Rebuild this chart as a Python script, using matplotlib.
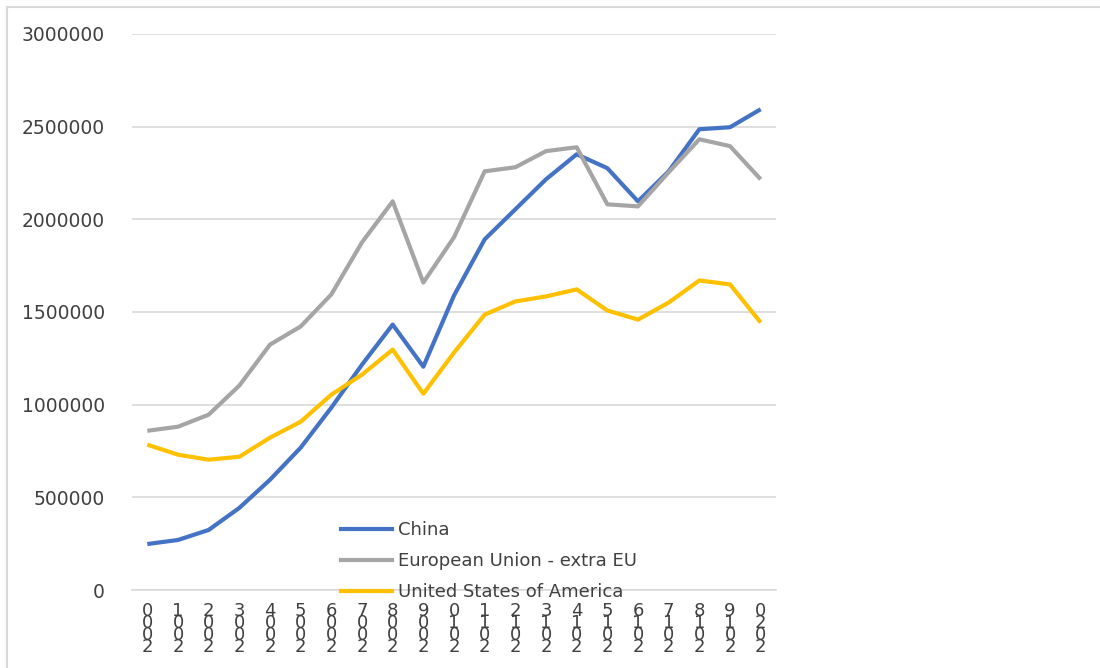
import matplotlib
matplotlib.use("Agg")
import matplotlib.pyplot as plt
from matplotlib.lines import Line2D

years = list(range(2000, 2021))
china = [248000, 270000, 324000, 443000, 595000, 768000, 984000, 1216000, 1432000, 1205000,
         1589000, 1892000, 2054000, 2216000, 2351000, 2276000, 2097000, 2259000, 2486000, 2497000, 2594000]
eu = [859000, 881000, 946000, 1103000, 1324000, 1422000, 1595000, 1876000, 2097000, 1659000,
      1903000, 2259000, 2281000, 2368000, 2389000, 2081000, 2070000, 2254000, 2432000, 2395000, 2216000]
usa = [784000, 730000, 703000, 719000, 822000, 908000, 1054000, 1162000, 1297000, 1059000,
       1281000, 1486000, 1557000, 1584000, 1622000, 1508000, 1459000, 1551000, 1670000, 1649000, 1443000]
labels = ["China", "European Union - extra EU", "United States of America"]
colors = ["#4472C4", "#A5A5A5", "#FFC000"]

fig = plt.figure(figsize=(11, 6.68), dpi=100)
ax = fig.add_axes([132 / 1100, 78 / 668, 644 / 1100, 556 / 668])

x = list(range(len(years)))
for vals, lab, c in zip([china, eu, usa], labels, colors):
    ax.plot(x, vals, color=c, lw=3, label=lab, solid_capstyle="butt", zorder=3)

ax.set_xlim(-0.5, len(years) - 0.5)
ax.set_ylim(0, 3000000)
ax.set_yticks(range(0, 3000001, 500000))
ax.set_yticklabels([str(v) for v in range(0, 3000001, 500000)], fontsize=13.5, color="#404040")
ax.grid(axis="y", color="#D9D9D9", lw=1.2)
ax.set_axisbelow(True)
for s in ["top", "right", "left"]:
    ax.spines[s].set_visible(False)
ax.spines["bottom"].set_color("#D9D9D9")
ax.spines["bottom"].set_linewidth(1.2)
ax.tick_params(axis="y", length=0, pad=19.5)
ax.tick_params(axis="x", length=0, pad=9)
ax.set_xticks(x)
ax.set_xticklabels(["\n".join(reversed(str(y))) for y in years], fontsize=13,
                   color="#404040", linespacing=0.55, va="top")

handles = [Line2D([], [], color=c, lw=3) for c in colors]
ax.legend(handles, labels, loc="upper left", bbox_to_anchor=(202 / 644, 76 / 556),
          frameon=False, fontsize=13, labelspacing=0.72, handlelength=2.8,
          handletextpad=0.35, borderaxespad=0, labelcolor="#404040")

# outer chart frame (partly visible)
fig.add_artist(Line2D([7 / 1100, 7 / 1100], [0, 1 - 7 / 668], transform=fig.transFigure,
                      color="#D9D9D9", lw=1.5))
fig.add_artist(Line2D([7 / 1100, 1], [1 - 7 / 668, 1 - 7 / 668], transform=fig.transFigure,
                      color="#D9D9D9", lw=1.5))

fig.savefig("out.png", dpi=100)
